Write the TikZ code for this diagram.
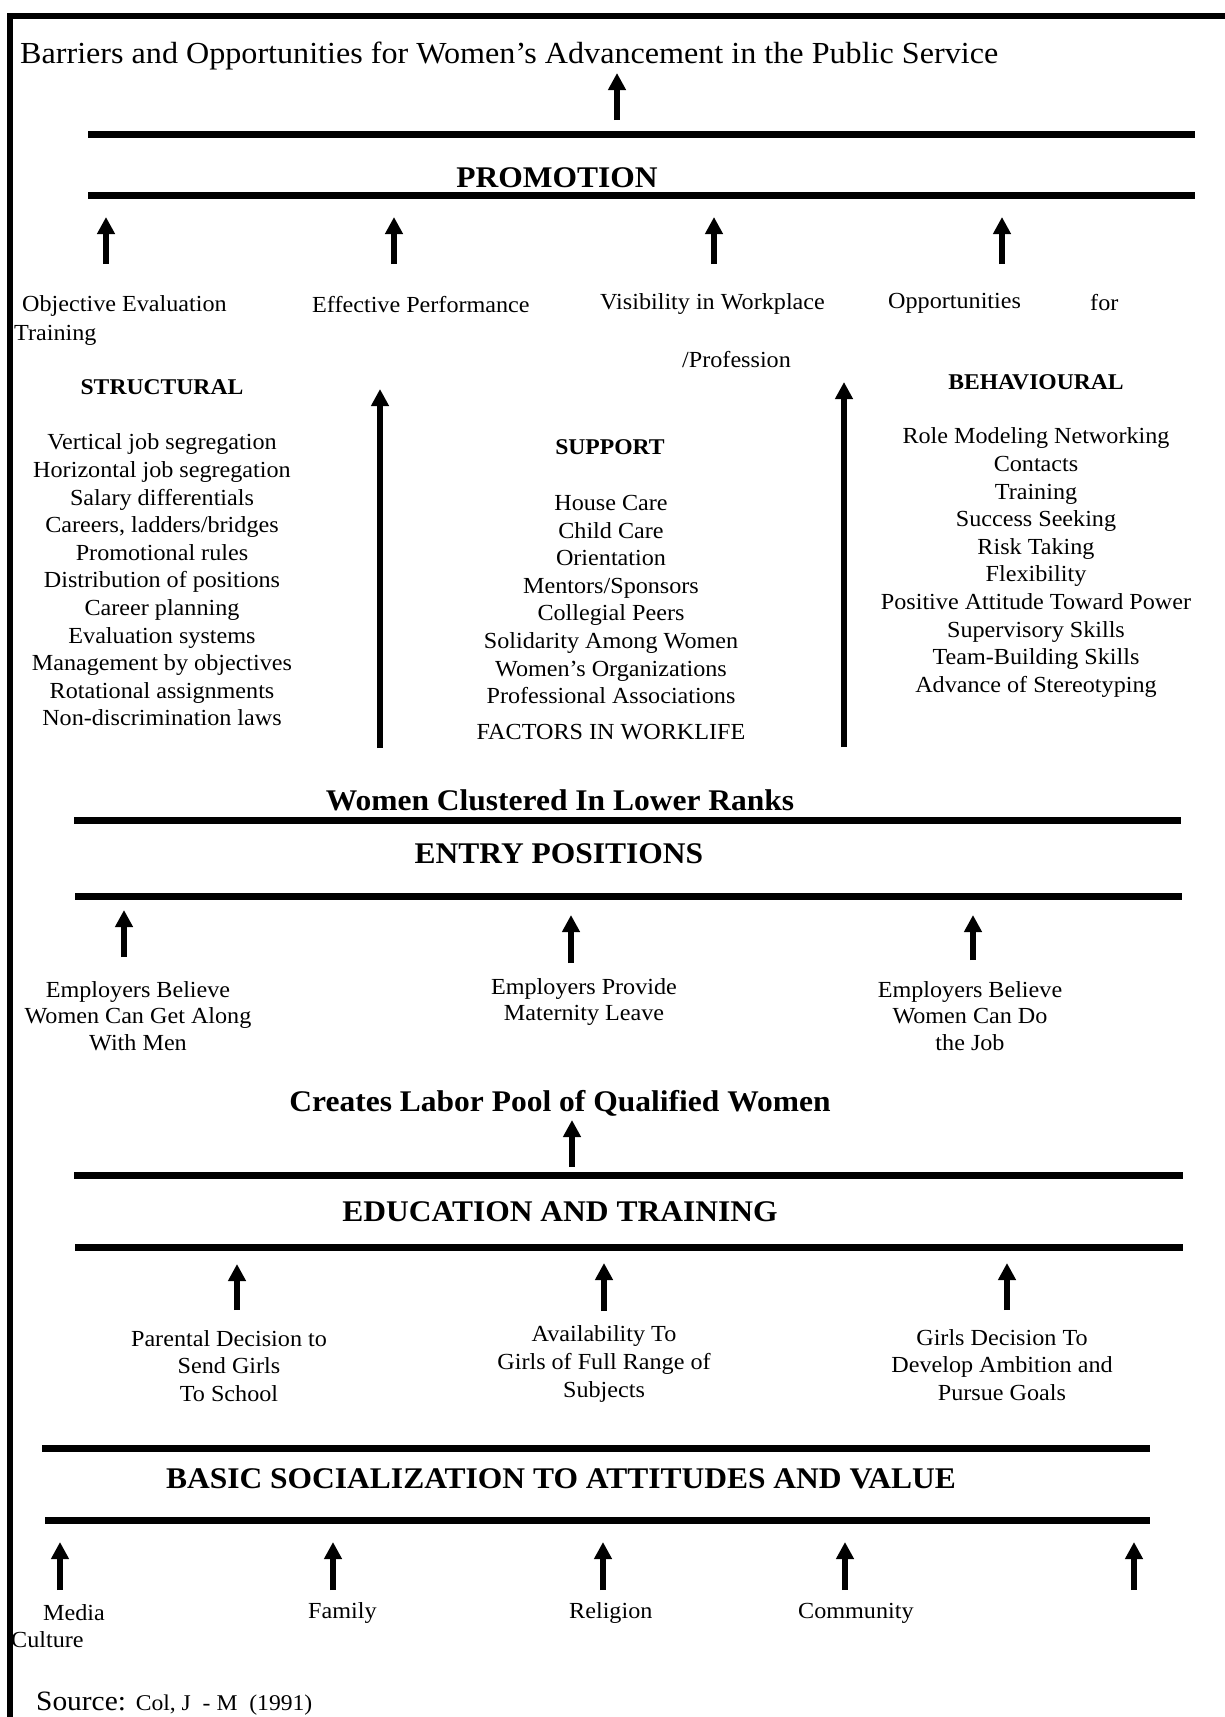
\documentclass[tikz,border=0pt]{standalone}
\usepackage{fontspec}
\setmainfont{Liberation Serif}[FakeStretch=1.05]
\usetikzlibrary{arrows.meta}

\begin{document}
\begin{tikzpicture}[x=1pt,y=-1pt,
  rule/.style={line width=7pt},
  frame/.style={line width=6pt},
  uparrow/.style={line width=5.5pt,-{Triangle[length=17pt,width=17pt]}},
  body/.style={inner sep=0pt,align=center,font=\fontsize{23}{27.6}\selectfont},
  head/.style={inner sep=0pt,font=\bfseries\fontsize{30}{36}\selectfont},
  subhead/.style={inner sep=0pt,font=\bfseries\fontsize{22.5}{27}\selectfont},
]
\useasboundingbox (0,0) rectangle (1225,1717);

% ---------- title ----------
\node[inner sep=0pt,anchor=base west,font=\fontsize{30.6}{36}\selectfont] (title) at (20,63)
  {Barriers and Opportunities for Women’s Advancement in the Public Service};
\coordinate (t0) at (617,120);
\coordinate (t1) at (617,73);
\draw[uparrow] (t0) -- (t1);

% ---------- promotion band ----------
\draw[rule] (88,134) -- (1195,134);
\node[head] (promo) at (557,178) {PROMOTION};
\draw[rule] (88,195) -- (1195,195);

\foreach \n/\x in {p1/106,p2/394,p3/714,p4/1002}{
  \coordinate (\n s) at (\x,264);
  \coordinate (\n e) at (\x,217);
  \draw[uparrow] (\n s) -- (\n e);
}

\node[body,anchor=west] (objev) at (22,306) {Objective Evaluation};
\node[body,anchor=west] (train) at (14,335) {Training};
\node[body,anchor=west] (effp) at (312,305) {Effective Performance};
\node[body,anchor=west] (visw) at (600,304) {Visibility in Workplace};
\node[body,anchor=west] (oppf) at (888,303) {Opportunities};
\node[body,anchor=west] (forw) at (1090,303) {for};
\node[body,anchor=west] (prof) at (682,360) {/Profession};

% ---------- factors in worklife ----------
\node[subhead] (struct) at (162,387) {STRUCTURAL};
\node[body] (structlist) at (162,580) {Vertical job segregation\\Horizontal job segregation\\Salary differentials\\Careers, ladders/bridges\\Promotional rules\\Distribution of positions\\Career planning\\Evaluation systems\\Management by objectives\\Rotational assignments\\Non-discrimination laws};

\node[subhead] (supp) at (610,447) {SUPPORT};
\node[body] (supplist) at (611,599.5) {House Care\\Child Care\\Orientation\\Mentors/Sponsors\\Collegial Peers\\Solidarity Among Women\\Women’s Organizations\\Professional Associations};
\node[body] (factors) at (611,732) {FACTORS IN WORKLIFE};

\node[subhead] (behav) at (1036,382) {BEHAVIOURAL};
\node[body] (behavlist) at (1036,562.5) {Role Modeling Networking\\Contacts\\Training\\Success Seeking\\Risk Taking\\Flexibility\\Positive Attitude Toward Power\\Supervisory Skills\\Team-Building Skills\\Advance of Stereotyping};

\coordinate (L1s) at (380,748);
\coordinate (L1e) at (380,389);
\draw[uparrow] (L1s) -- (L1e);
\coordinate (L2s) at (844,747);
\coordinate (L2e) at (844,382);
\draw[uparrow] (L2s) -- (L2e);

% ---------- entry positions band ----------
\node[head] (lower) at (560,800) {Women Clustered In Lower Ranks};
\draw[rule] (74,820) -- (1181,820);
\node[head] (entry) at (559,854) {ENTRY POSITIONS};
\draw[rule] (75,896) -- (1182,896);

\coordinate (e1s) at (124,957);
\coordinate (e1e) at (124,910);
\coordinate (e2s) at (571,963);
\coordinate (e2e) at (571,915);
\coordinate (e3s) at (973,960);
\coordinate (e3e) at (973,915);
\draw[uparrow] (e1s) -- (e1e);
\draw[uparrow] (e2s) -- (e2e);
\draw[uparrow] (e3s) -- (e3e);

\node[body,font=\fontsize{23}{26.6}\selectfont] (emp1) at (138,1016) {Employers Believe\\Women Can Get Along\\With Men};
\node[body,font=\fontsize{23}{26.6}\selectfont] (emp2) at (584,1002) {Employers Provide\\Maternity Leave};
\node[body,font=\fontsize{23}{26.6}\selectfont] (emp3) at (970,1016) {Employers Believe\\Women Can Do\\the Job};

% ---------- education band ----------
\node[head] (pool) at (560,1103) {Creates Labor Pool of Qualified Women};
\coordinate (c0) at (572,1167);
\coordinate (c1) at (572,1120);
\draw[uparrow] (c0) -- (c1);
\draw[rule] (74,1175) -- (1183,1175);
\node[head] (edu) at (560,1212) {EDUCATION AND TRAINING};
\draw[rule] (75,1247) -- (1183,1247);

\coordinate (d1s) at (237,1310);
\coordinate (d1e) at (237,1264);
\coordinate (d2s) at (604,1311);
\coordinate (d2e) at (604,1263);
\coordinate (d3s) at (1007,1310);
\coordinate (d3e) at (1007,1263);
\draw[uparrow] (d1s) -- (d1e);
\draw[uparrow] (d2s) -- (d2e);
\draw[uparrow] (d3s) -- (d3e);

\node[body] (par) at (229,1366) {Parental Decision to\\Send Girls\\To School};
\node[body] (avail) at (604,1364) {Availability To\\Girls of Full Range of\\Subjects};
\node[body] (girls) at (1002,1365) {Girls Decision To\\Develop Ambition and\\Pursue Goals};

% ---------- socialization band ----------
\draw[rule] (42,1448) -- (1150,1448);
\node[head] (basic) at (561,1479) {BASIC SOCIALIZATION TO ATTITUDES AND VALUE};
\draw[rule] (45,1520) -- (1150,1520);

\foreach \n/\x in {b1/60,b2/333,b3/603,b4/845,b5/1134}{
  \coordinate (\n s) at (\x,1590);
  \coordinate (\n e) at (\x,1542);
  \draw[uparrow] (\n s) -- (\n e);
}

\node[body,anchor=west] (media) at (43,1613) {Media};
\node[body,anchor=west] (cult) at (11,1640) {Culture};
\node[body,anchor=west] (fam) at (308,1613) {Family};
\node[body,anchor=west] (relig) at (569,1613) {Religion};
\node[body,anchor=west] (comm) at (798,1613) {Community};

\node[inner sep=0pt,anchor=base west] (src) at (36,1710)
  {\fontsize{28}{32}\selectfont Source: \fontsize{22.5}{26}\selectfont Col, J\ \ -\ M\ \ (1991)};

% ---------- frame ----------
\draw[frame] (10,1717) -- (10,16) -- (1225,16);
\end{tikzpicture}
\end{document}
